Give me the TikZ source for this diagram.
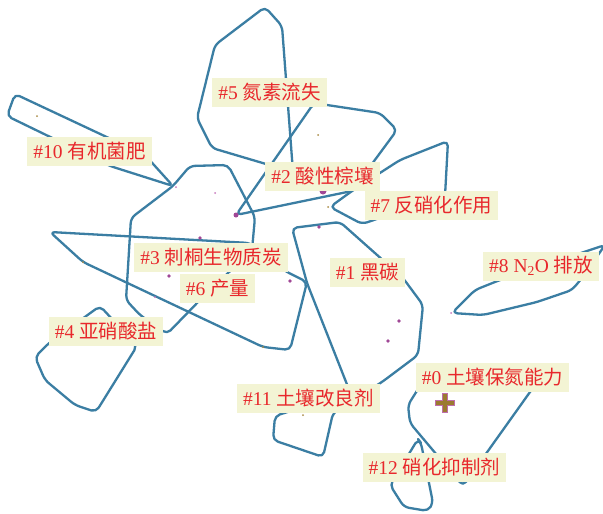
\documentclass[tikz,border=0pt]{standalone}
\usepackage{fontspec}
\setmainfont{Liberation Serif}
\newfontfamily\cjk{Noto Sans CJK SC}
\definecolor{loopc}{RGB}{59,126,163}
\definecolor{labfill}{RGB}{243,244,212}
\definecolor{labtext}{RGB}{232,40,44}
\definecolor{dotc}{RGB}{160,72,150}
\definecolor{dotp}{RGB}{200,120,190}
\definecolor{dotol}{RGB}{170,140,70}
\definecolor{plusc}{RGB}{155,122,48}
\definecolor{plusedge}{RGB}{190,110,170}
\tikzset{
  loopline/.style={draw=loopc, line width=2.3pt, rounded corners=5pt, line join=round},
  lab/.style={fill=labfill, text=labtext, inner xsep=6pt, inner ysep=0pt,
    minimum height=29pt, font=\fontsize{19.5}{20}\selectfont},
  bigdot/.style={fill=dotc},
  tinydot/.style={fill=dotp},
  oldot/.style={fill=dotol}
}
\begin{document}
\begin{tikzpicture}[x=1pt,y=-1pt]
\fill[white] (0,0) rectangle (603,514);
\useasboundingbox (0,0) rectangle (603,514);
\begin{scope}
\clip (0,0) rectangle (603,514);
% loop A (#5)
\draw[loopline] (265,7) -- (282,26) -- (293,172) -- (212,148) -- (197,118) -- (215,45) -- cycle;
% loop B (#10)
\draw[loopline] (15,94) -- (145,155) -- (173,186) -- (110,166) -- (7,116) -- cycle;
% loop C (#3)
\draw[loopline] (173,186) -- (190,166) -- (228,165) -- (255,217) -- (252,250) -- (200,300) -- (167,334) -- (140,315) -- (126,300) -- (131,218) -- cycle;
% loop D
\draw[loopline] (50,232) -- (250,243) -- (285,271) -- (307,282) -- (290,350) -- (263,347) -- (83,262) -- cycle;
% loop E (#1 / #11)
\draw[loopline] (292,228) -- (340,222) -- (403,278) -- (423,305) -- (418,355) -- (382,382) -- (333,413) -- (323,457) -- (273,440) -- (275,416) -- (350,392) -- (307,283) -- cycle;
% loop F
\draw[loopline] (236,215) -- (352,191) -- (397,130) -- (380,113) -- (327,105) -- (314,103) -- cycle;
% loop G (#7)
\draw[loopline] (352,191) -- (330,207) -- (362,224) -- (445,196) -- (448,141) -- (400,160) -- cycle;
% loop H (#4)
\draw[loopline] (100,306) -- (137,346) -- (96,412) -- (75,405) -- (45,380) -- (35,357) -- (49,343) -- cycle;
% loop I (#8)
\draw[loopline] (452,313) -- (475,290) -- (500,280) -- (605,245) -- (582,278) -- (572,290) -- (537,302) -- (483,315) -- cycle;
% loop J (#0)
\draw[loopline] (420,386) -- (408,405) -- (410,423) -- (463,486) -- (530,392) -- (536,384) -- cycle;
% loop K (#12)
\draw[loopline] (418,439) -- (390,485) -- (404,507) -- (428,511) -- (433,503) -- (421,443) -- cycle;
\end{scope}
% dots
\fill[bigdot] (236,215) circle (2.5pt);
\fill[bigdot] (323,191) circle (3.5pt);
\foreach \p in {(200,238),(169,276),(290,281),(319,227),(399,321),(388,341)}
  \fill[bigdot] \p circle (1.8pt);
\foreach \p in {(176,187),(215,193),(155,297),(451,313)}
  \fill[tinydot] \p circle (1pt);
\foreach \p in {(37,116),(318,135),(328,207),(83,262),(263,347),(303,415)}
  \fill[oldot] \p circle (1pt);
% plus marker
\filldraw[fill=plusc, draw=plusedge, line width=0.6pt]
  (442.5,393) -- (447.5,393) -- (447.5,400) -- (454.5,400) -- (454.5,405) -- (447.5,405) -- (447.5,412)
  -- (442.5,412) -- (442.5,405) -- (435.5,405) -- (435.5,400) -- (442.5,400) -- cycle;
% labels
\node[lab] (n5) at (269.5,92.5) {\#5 {\cjk 氮素流失}};
\node[lab] (n10) at (89.5,151) {\#10 {\cjk 有机菌肥}};
\node[lab] (n2) at (322.5,176.5) {\#2 {\cjk 酸性棕壤}};
\node[lab] (n7) at (431.5,205) {\#7 {\cjk 反硝化作用}};
\node[lab] (n3) at (211,257) {\#3 {\cjk 刺桐生物质炭}};
\node[lab] (n6) at (217.5,288.5) {\#6 {\cjk 产量}};
\node[lab] (n1) at (367.5,272.5) {\#1 {\cjk 黑碳}};
\node[lab] (n8) at (541,266) {\#8 N\textsubscript{2}O {\cjk 排放}};
\node[lab] (n4) at (106,331) {\#4 {\cjk 亚硝酸盐}};
\node[lab] (n11) at (308.5,398) {\#11 {\cjk 土壤改良剂}};
\node[lab] (n0) at (492.5,377) {\#0 {\cjk 土壤保氮能力}};
\node[lab] (n12) at (434.5,467) {\#12 {\cjk 硝化抑制剂}};
\end{tikzpicture}
\end{document}
